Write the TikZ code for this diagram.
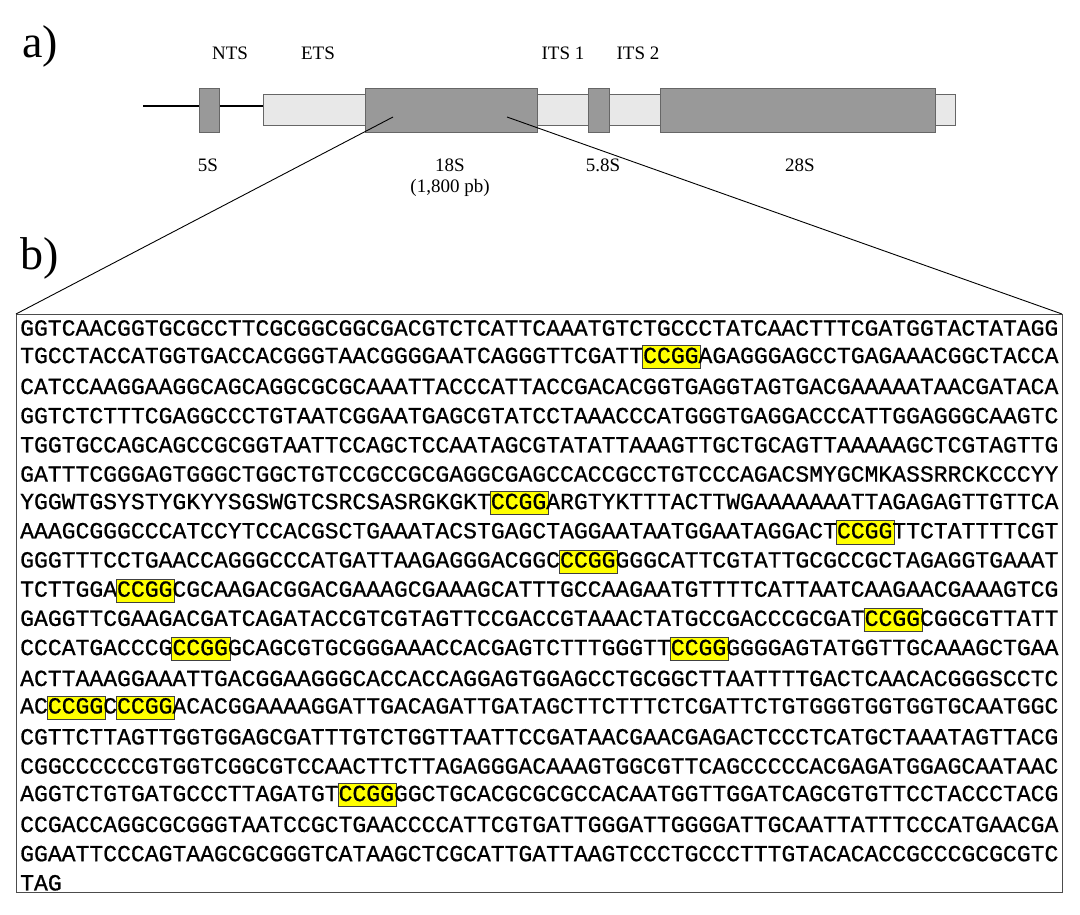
\documentclass[tikz,border=0pt]{standalone}
\usepackage{fontspec}
\setmainfont{Liberation Serif}
\newfontfamily\seqfont[FakeBold=0.8]{Liberation Mono}
\usepackage{xcolor}
\definecolor{dk}{HTML}{999999}
\definecolor{lt}{HTML}{E8E8E8}
\definecolor{hy}{HTML}{FFFF00}
\newcommand\hl[1]{\leavevmode\rlap{\kern-1pt\raisebox{-5pt}{\setlength\fboxsep{0pt}\setlength\fboxrule{0.9pt}\fcolorbox{black!75}{hy}{\rule{0pt}{22pt}\kern2pt\phantom{#1}}}}#1}
\tikzset{
  dkbox/.style={draw=black!60, fill=dk, line width=0.6pt},
  ltbox/.style={draw=black!60, fill=lt, line width=0.6pt},
  lbl/.style={font=\fontsize{19}{22}\selectfont, inner sep=0pt},
  panel/.style={font=\fontsize{46}{50}\selectfont, inner sep=0pt},
  seq/.style={font=\seqfont\fontsize{23.07}{26}\selectfont, anchor=west, inner sep=0pt}
}
\begin{document}
\begin{tikzpicture}[x=1pt,y=-1pt]
\useasboundingbox (0,0) rectangle (1080,914);
\node[panel] (pa) at (40,46) {a)};
\node[panel] (pb) at (40,258) {b)};
\draw[line width=2pt] (143,106) -- (263,106);
\draw[ltbox] (263,94) rectangle (955,125);
\draw[dkbox] (199,88) rectangle (219,132);
\draw[dkbox] (365,88) rectangle (537,132);
\draw[dkbox] (588,88) rectangle (609,132);
\draw[dkbox] (660,88) rectangle (935,132);
\node[lbl] (nts) at (230,53) {NTS};
\node[lbl] (ets) at (318,53) {ETS};
\node[lbl] (its1) at (563,53) {ITS 1};
\node[lbl] (its2) at (638,53) {ITS 2};
\node[lbl] (s5) at (208,165) {5S};
\node[lbl] (s18) at (450,165) {18S};
\node[lbl] (pb18) at (450,188) {(1,800 pb)};
\node[lbl] (s58) at (603,165) {5.8S};
\node[lbl] (s28) at (800,165) {28S};
\coordinate (za) at (393,117);
\coordinate (zb) at (507,117);
\draw[line width=1pt, black!70] (16,314) rectangle (1062,892);
\coordinate (bl) at (16,314);
\coordinate (br) at (1062,314);
\draw[line width=0.9pt] (za) -- (bl);
\draw[line width=0.9pt] (zb) -- (br);
\foreach \i/\t in {
0/{GGTCAACGGTGCGCCTTCGCGGCGGCGACGTCTCATTCAAATGTCTGCCCTATCAACTTTCGATGGTACTATAGG},
1/{TGCCTACCATGGTGACCACGGGTAACGGGGAATCAGGGTTCGATT\hl{CCGG}AGAGGGAGCCTGAGAAACGGCTACCA},
2/{CATCCAAGGAAGGCAGCAGGCGCGCAAATTACCCATTACCGACACGGTGAGGTAGTGACGAAAAATAACGATACA},
3/{GGTCTCTTTCGAGGCCCTGTAATCGGAATGAGCGTATCCTAAACCCATGGGTGAGGACCCATTGGAGGGCAAGTC},
4/{TGGTGCCAGCAGCCGCGGTAATTCCAGCTCCAATAGCGTATATTAAAGTTGCTGCAGTTAAAAAGCTCGTAGTTG},
5/{GATTTCGGGAGTGGGCTGGCTGTCCGCCGCGAGGCGAGCCACCGCCTGTCCCAGACSMYGCMKASSRRCKCCCYY},
6/{YGGWTGSYSTYGKYYSGSWGTCSRCSASRGKGKT\hl{CCGG}ARGTYKTTTACTTWGAAAAAAATTAGAGAGTTGTTCA},
7/{AAAGCGGGCCCATCCYTCCACGSCTGAAATACSTGAGCTAGGAATAATGGAATAGGACT\hl{CCGG}TTCTATTTTCGT},
8/{GGGTTTCCTGAACCAGGGCCCATGATTAAGAGGGACGGC\hl{CCGG}GGGCATTCGTATTGCGCCGCTAGAGGTGAAAT},
9/{TCTTGGA\hl{CCGG}CGCAAGACGGACGAAAGCGAAAGCATTTGCCAAGAATGTTTTCATTAATCAAGAACGAAAGTCG},
10/{GAGGTTCGAAGACGATCAGATACCGTCGTAGTTCCGACCGTAAACTATGCCGACCCGCGAT\hl{CCGG}CGGCGTTATT},
11/{CCCATGACCCG\hl{CCGG}GCAGCGTGCGGGAAACCACGAGTCTTTGGGTT\hl{CCGG}GGGGAGTATGGTTGCAAAGCTGAA},
12/{ACTTAAAGGAAATTGACGGAAGGGCACCACCAGGAGTGGAGCCTGCGGCTTAATTTTGACTCAACACGGGSCCTC},
13/{AC\hl{CCGG}C\hl{CCGG}ACACGGAAAAGGATTGACAGATTGATAGCTTCTTTCTCGATTCTGTGGGTGGTGGTGCAATGGC},
14/{CGTTCTTAGTTGGTGGAGCGATTTGTCTGGTTAATTCCGATAACGAACGAGACTCCCTCATGCTAAATAGTTACG},
15/{CGGCCCCCCGTGGTCGGCGTCCAACTTCTTAGAGGGACAAAGTGGCGTTCAGCCCCCACGAGATGGAGCAATAAC},
16/{AGGTCTGTGATGCCCTTAGATGT\hl{CCGG}GGCTGCACGCGCGCCACAATGGTTGGATCAGCGTGTTCCTACCCTACG},
17/{CCGACCAGGCGCGGGTAATCCGCTGAACCCCATTCGTGATTGGGATTGGGGATTGCAATTATTTCCCATGAACGA},
18/{GGAATTCCCAGTAAGCGCGGGTCATAAGCTCGCATTGATTAAGTCCCTGCCCTTTGTACACACCGCCCGCGCGTC},
19/{TAG}}
{ \node[seq] (r\i) at (20,{328+\i*29.2}) {\t}; }
\end{tikzpicture}
\end{document}
